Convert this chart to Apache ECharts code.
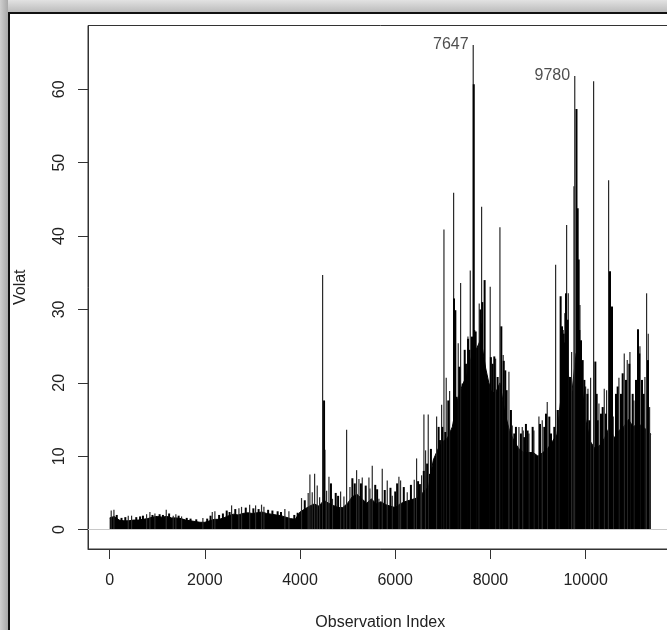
<!DOCTYPE html>
<html>
<head>
<meta charset="utf-8">
<script src="https://cdn.jsdelivr.net/npm/echarts@6/dist/echarts.min.js"></script>
<style>
  html, body { margin: 0; padding: 0; background: #fff; overflow: hidden; }
  #chart { width: 680px; height: 630px; }
</style>
</head>
<body>
<div id="chart"></div>
<script>
// dense black body of the series, sampled along the index
const baseObs = [1, 100, 200, 300, 400, 500, 600, 700, 800, 900, 1000, 1100, 1200, 1300, 1400, 1500, 1600, 1700, 1800, 1900,
  2000, 2100, 2200, 2300, 2400, 2500, 2600, 2700, 2800, 2900, 3000, 3100, 3200, 3300, 3400, 3500, 3600, 3700, 3800, 3900,
  4000, 4100, 4200, 4300, 4400, 4500, 4600, 4700, 4800, 4900, 5000, 5100, 5200, 5300, 5400, 5500, 5600, 5700, 5800, 5900,
  6000, 6100, 6200, 6300, 6400, 6500, 6600, 6700, 6800, 6900, 7000, 7100, 7200, 7300, 7400, 7500, 7600, 7700, 7800, 7900,
  8000, 8100, 8200, 8300, 8400, 8500, 8600, 8700, 8800, 8900, 9000, 9100, 9200, 9300, 9400, 9500, 9600, 9700, 9800, 9900,
  10000, 10100, 10200, 10300, 10400, 10500, 10600, 10700, 10800, 10900, 11000, 11100, 11200, 11300, 11370];
const baseVal = [1.6, 1.8, 1.3, 1.2, 1.2, 1.3, 1.3, 1.4, 1.5, 1.7, 1.8, 1.7, 1.8, 1.6, 1.6, 1.5, 1.3, 1.2, 1.1, 1.0,
  1.0, 1.2, 1.4, 1.4, 1.6, 1.9, 2.1, 2.0, 2.2, 2.3, 2.2, 2.3, 2.4, 2.2, 2.1, 2.0, 1.9, 1.7, 1.5, 1.4,
  2.4, 2.8, 3.2, 3.5, 3.2, 4.0, 3.6, 3.3, 3.0, 3.0, 3.6, 4.5, 4.8, 4.2, 3.6, 4.2, 3.5, 3.8, 3.4, 3.2,
  3.0, 3.5, 3.8, 4.0, 4.2, 4.4, 5.2, 5.8, 9.5, 11.0, 12.0, 12.5, 14.0, 17.5, 19.5, 21.0, 23.5, 24.5, 26.0, 22.0,
  19.0, 18.5, 20.0, 16.0, 13.5, 12.0, 11.0, 10.5, 10.5, 10.5, 10.0, 10.5, 11.0, 12.0, 13.0, 19.0, 23.0, 18.0, 24.0, 21.0,
  15.0, 12.0, 11.0, 11.5, 12.5, 14.0, 12.5, 13.5, 14.0, 15.0, 14.0, 14.5, 14.0, 13.5, 13.0];

// single tall lines (grey in the original)
const spikeObs = [42, 99, 400, 470, 785, 855, 960, 1198, 1345, 1400, 1520, 1968, 2165, 2220, 2571, 2725, 2780, 2950, 3075, 3200,
  3250, 3690, 3775, 4040, 4180, 4216, 4265, 4315, 4370, 4420, 4483, 4532, 4567, 4616, 4690, 4861, 4931, 4987, 5057, 5197,
  5246, 5316, 5456, 5477, 5526, 5666, 5736, 5841, 5946, 6086, 6121, 6261, 6408, 6457, 6541, 6562, 6611, 6646, 6702, 6878,
  6983, 7032, 7080, 7151, 7235, 7332, 7382, 7536, 7585, 7647, 7704, 7773, 7823, 8004, 8117, 8208, 8277, 8397, 8466, 8607,
  8677, 8698, 8817, 8922, 9027, 9097, 9202, 9378, 9448, 9609, 9644, 9714, 9763, 9780, 9889, 10008, 10057, 10113, 10176, 10288,
  10400, 10449, 10491, 10589, 10708, 10820, 10883, 10939, 11023, 11149, 11254, 11289, 11324, 11352];
const spikeVal = [2.6, 2.7, 1.9, 1.9, 2.1, 2.4, 2.2, 2.7, 1.9, 2.1, 1.8, 1.6, 2.4, 2.5, 3.3, 2.9, 3.1, 3.4, 3.3, 3.4,
  3.1, 2.8, 2.5, 4.3, 5.0, 7.5, 5.1, 7.6, 6.0, 4.4, 34.7, 10.9, 5.3, 7.2, 4.2, 5.2, 4.5, 13.6, 5.8, 8.1,
  6.9, 7.1, 7.1, 5.6, 8.7, 4.2, 8.3, 6.7, 4.6, 7.2, 6.7, 5.1, 6.8, 9.7, 6.2, 7.4, 15.7, 10.8, 15.7, 15.4,
  17.0, 40.9, 20.7, 18.9, 45.9, 25.4, 33.6, 26.3, 35.3, 66.05, 24.5, 30.8, 44.0, 33.1, 23.3, 41.2, 23.8, 21.5, 14.2, 14.0,
  14.0, 13.5, 13.1, 13.5, 15.4, 14.9, 17.4, 36.1, 16.3, 41.5, 32.2, 24.2, 46.8, 61.8, 30.6, 19.5, 19.2, 20.7, 61.1, 17.2,
  19.2, 19.0, 47.6, 15.4, 20.7, 24.0, 23.1, 24.2, 17.6, 25.0, 20.8, 32.2, 26.7, 16.7];

// overlapping lines that read as solid black, they roughen the top of the body
const stubObs = [150, 250, 330, 560, 640, 700, 900, 1050, 1120, 1250, 1450, 1620, 1700, 1820, 2050, 2120, 2300, 2380, 2460, 2520,
  2640, 2860, 3020, 3130, 3330, 3420, 3530, 3600, 3880, 3950, 4100, 4505, 4650, 4750, 4800, 5100, 5150, 5280, 5380, 5580,
  5620, 5780, 5900, 6000, 6040, 6180, 6330, 6480, 6506, 6600, 6670, 6731, 6750, 6912, 6940, 6990, 7052, 7115, 7185, 7235,
  7263, 7290, 7346, 7416, 7460, 7486, 7530, 7557, 7613, 7650, 7660, 7690, 7790, 7801, 7830, 7878, 7920, 7962, 8010, 8046,
  8081, 8151, 8229, 8280, 8312, 8340, 8431, 8501, 8536, 8641, 8712, 8746, 8781, 8887, 9041, 9132, 9167, 9237, 9272, 9342,
  9413, 9475, 9504, 9518, 9539, 9560, 9574, 9588, 9623, 9672, 9808, 9833, 9854, 9868, 9903, 9938, 9973, 10036, 10078, 10204,
  10232, 10253, 10323, 10358, 10428, 10512, 10554, 10638, 10673, 10743, 10778, 10848, 10918, 10988, 11058, 11100, 11128, 11184, 11219, 11310];
const stubVal = [2.0, 1.6, 1.7, 1.7, 1.8, 1.9, 2.0, 2.1, 2.0, 2.2, 1.9, 1.6, 1.5, 1.4, 1.5, 1.9, 2.0, 2.2, 2.6, 2.4,
  2.8, 3.0, 2.9, 2.8, 2.7, 2.6, 2.5, 2.4, 2.0, 2.3, 4.0, 17.6, 6.3, 5.0, 4.6, 7.0, 6.3, 6.3, 6.0, 6.1,
  5.5, 5.4, 5.7, 5.2, 6.3, 5.8, 6.1, 6.6, 6.2, 8.0, 9.0, 7.6, 11.0, 14.0, 12.2, 14.0, 13.3, 17.6, 13.5, 31.5,
  29.9, 18.1, 22.2, 19.9, 24.5, 22.6, 26.0, 24.5, 26.3, 60.7, 27.2, 27.0, 30.0, 28.1, 31.0, 34.0, 19.0, 19.9, 23.5, 22.6,
  23.6, 20.8, 27.7, 23.0, 21.7, 19.0, 16.3, 13.1, 14.0, 13.1, 12.6, 14.4, 13.5, 14.0, 14.4, 14.0, 15.8, 15.4, 13.1, 14.0,
  16.3, 31.8, 27.7, 27.2, 26.7, 25.5, 29.5, 32.2, 28.6, 20.8, 57.3, 43.8, 36.8, 27.2, 25.8, 23.1, 20.4, 18.5, 14.9, 22.9,
  18.5, 14.9, 15.8, 16.7, 15.8, 35.2, 30.4, 18.5, 19.5, 18.5, 21.3, 20.4, 22.6, 18.5, 20.4, 27.3, 24.0, 20.4, 18.5, 23.1];

const peakObs = [7647, 9780];
const peakVal = [66.05, 61.8];

const xTicks = [0, 2000, 4000, 6000, 8000, 10000];
const yTicks = [0, 10, 20, 30, 40, 50, 60];

const pairs = (xs, ys) => xs.map((x, i) => [x, ys[i]]);
const textColor = '#222';
const font = 'Liberation Sans, Arial, sans-serif';
const xRange = { min: -454, max: 11825 };
const yRange = { min: -2.64, max: 68.69 };
const box = { left: 88, top: 25.5, right: 7.5, bottom: 81, outerBoundsMode: 'none' };

const chart = echarts.init(document.getElementById('chart'));

const option = {
  animation: false,
  backgroundColor: '#fff',
  textStyle: { fontFamily: font },
  // grid 0 holds the data, grids 1 and 2 only carry the R style axes
  grid: [
    { ...box, show: true, borderColor: '#333', borderWidth: 1 },
    { ...box },
    { ...box },
  ],
  xAxis: [
    { type: 'value', gridIndex: 0, ...xRange, show: false },
    {
      type: 'value',
      gridIndex: 1,
      position: 'bottom',
      ...xRange,
      name: 'Observation Index',
      nameLocation: 'middle',
      nameGap: 66,
      nameTextStyle: { fontSize: 16, color: textColor, fontFamily: font },
      axisLine: { show: true, onZero: false, lineStyle: { color: '#333', width: 1 } },
      splitLine: { show: false },
      axisTick: { show: true, length: 10, customValues: xTicks, lineStyle: { color: '#333' } },
      axisLabel: {
        customValues: xTicks, fontSize: 16, color: textColor, margin: 24, fontFamily: font,
        formatter: v => String(v),
      },
    },
    { type: 'category', gridIndex: 2, show: false, data: [] },
  ],
  yAxis: [
    { type: 'value', gridIndex: 0, ...yRange, show: false },
    { type: 'category', gridIndex: 1, show: false, data: [] },
    {
      type: 'value',
      gridIndex: 2,
      position: 'left',
      ...yRange,
      name: 'Volat',
      nameLocation: 'middle',
      nameRotate: 90,
      nameGap: 59,
      nameTextStyle: { fontSize: 16, color: textColor, fontFamily: font },
      axisLine: { show: true, onZero: false, lineStyle: { color: '#333', width: 1 } },
      splitLine: { show: false },
      axisTick: { show: true, length: 10, customValues: yTicks, lineStyle: { color: '#333' } },
      axisLabel: {
        customValues: yTicks, fontSize: 16, color: textColor, margin: 20, rotate: 90, fontFamily: font,
        formatter: v => String(v),
      },
    },
  ],
  graphic: [
    {
      type: 'rect', silent: true, z: 100,
      shape: { x: 0, y: 0, width: 680, height: 12 },
      style: {
        fill: new echarts.graphic.LinearGradient(0, 0, 0, 1, [
          { offset: 0, color: '#e2e2e2' },
          { offset: 1, color: '#bcbcbc' },
        ]),
      },
    },
    {
      type: 'rect', silent: true, z: 100,
      shape: { x: 0, y: 0, width: 8, height: 630 },
      style: {
        fill: new echarts.graphic.LinearGradient(0, 0, 1, 0, [
          { offset: 0, color: '#cfcfcf' },
          { offset: 1, color: '#a8a8a8' },
        ]),
      },
    },
    { type: 'rect', silent: true, z: 101, shape: { x: 8, y: 12, width: 672, height: 2 }, style: { fill: '#111' } },
    { type: 'rect', silent: true, z: 101, shape: { x: 8, y: 12, width: 2, height: 618 }, style: { fill: '#111' } },
  ],
  series: [
    {
      type: 'line',
      xAxisIndex: 0,
      yAxisIndex: 0,
      data: pairs(baseObs, baseVal),
      symbol: 'none',
      z: 2,
      lineStyle: { color: '#000', width: 1 },
      areaStyle: { color: '#000', opacity: 1 },
      markLine: {
        silent: true,
        symbol: 'none',
        label: { show: false },
        lineStyle: { color: '#c8c8c8', type: 'solid', width: 1 },
        data: [{ yAxis: 0 }],
      },
    },
    {
      type: 'bar',
      xAxisIndex: 0,
      yAxisIndex: 0,
      data: pairs(spikeObs, spikeVal),
      barWidth: 1.2,
      barGap: '-100%',
      z: 3,
      itemStyle: { color: '#2a2a2a' },
    },
    {
      type: 'bar',
      xAxisIndex: 0,
      yAxisIndex: 0,
      data: pairs(stubObs, stubVal),
      barWidth: 2,
      barGap: '-100%',
      z: 4,
      itemStyle: { color: '#000' },
    },
    {
      type: 'scatter',
      xAxisIndex: 0,
      yAxisIndex: 0,
      data: pairs(peakObs, peakVal),
      symbolSize: 0,
      z: 5,
      label: {
        show: true,
        position: 'left',
        distance: 5,
        fontSize: 16,
        color: textColor,
        fontFamily: font,
        formatter: p => String(p.value[0]),
      },
    },
  ],
};

chart.setOption(option);
</script>
</body>
</html>
